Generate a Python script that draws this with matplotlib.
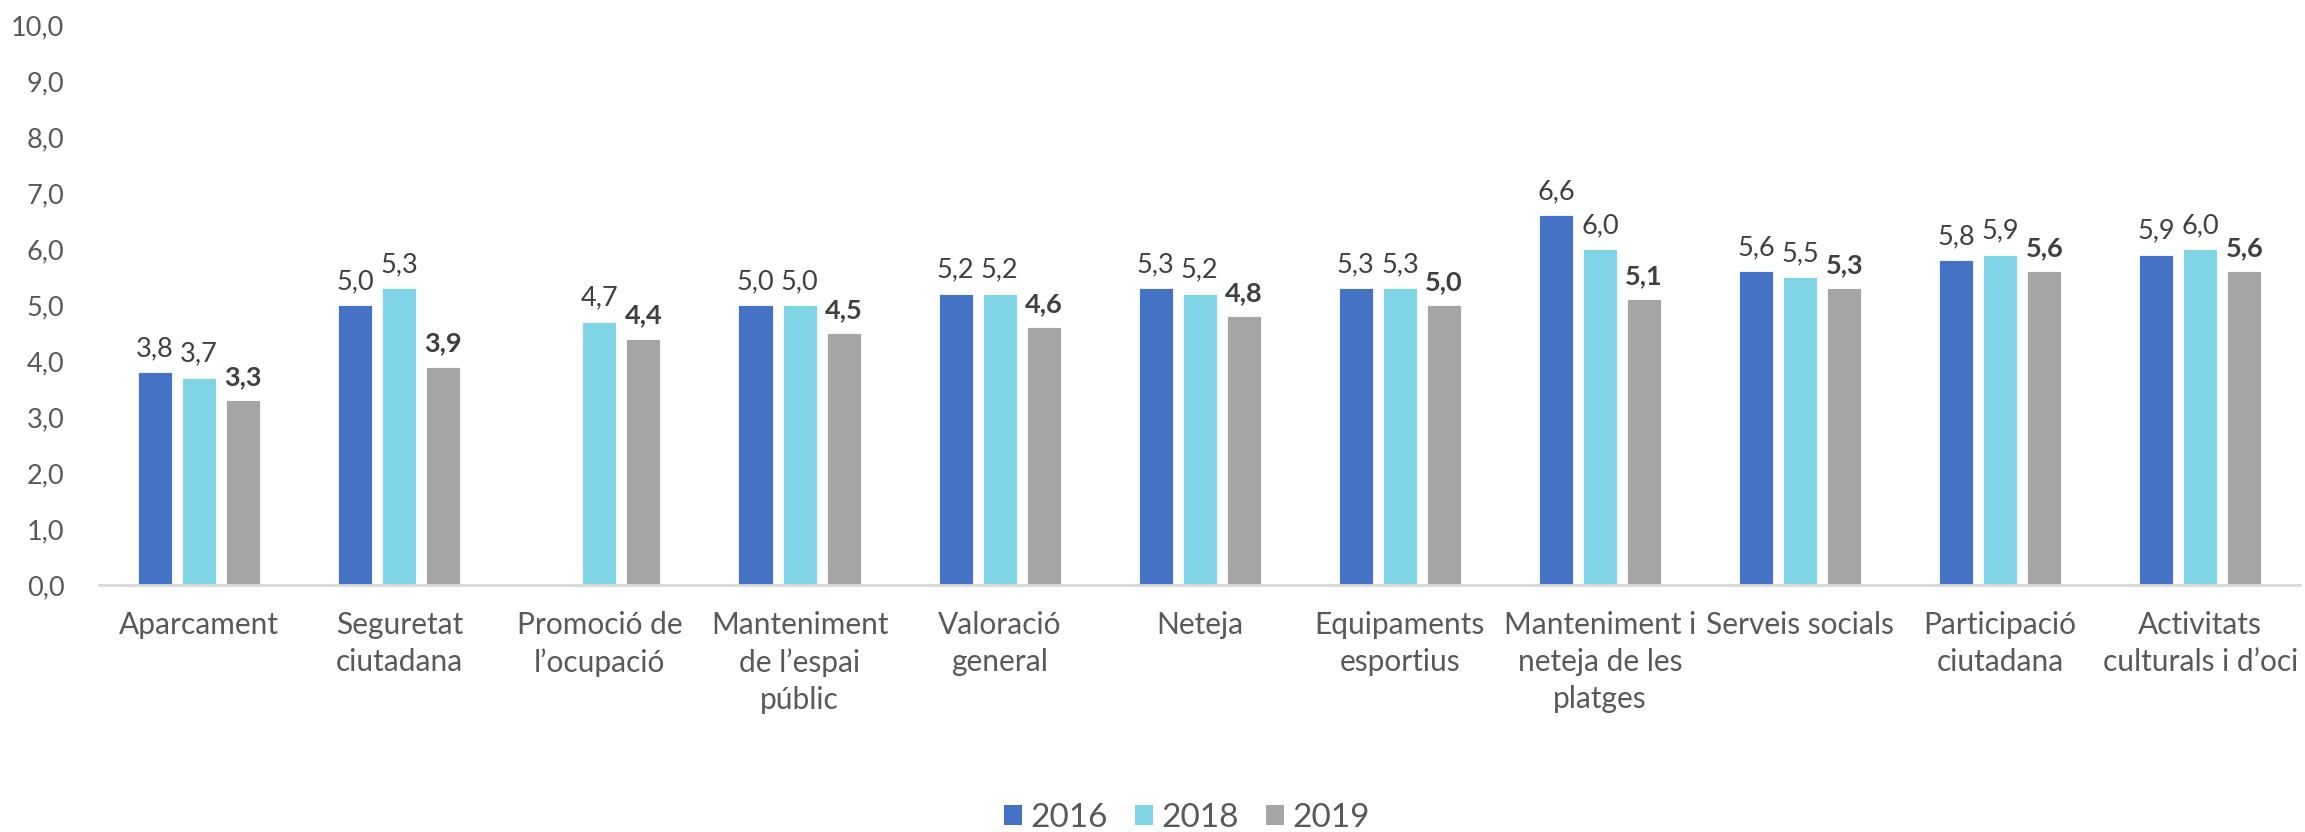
import numpy as np
import matplotlib
matplotlib.use("Agg")
import matplotlib.pyplot as plt
from matplotlib.patches import Patch

plt.rcParams['font.family'] = ['Lato', 'DejaVu Sans']

categories = [
    "Aparcament",
    "Seguretat\nciutadana",
    "Promoció de\nl’ocupació",
    "Manteniment\nde l’espai\npúblic",
    "Valoració\ngeneral",
    "Neteja",
    "Equipaments\nesportius",
    "Manteniment i\nneteja de les\nplatges",
    "Serveis socials",
    "Participació\nciutadana",
    "Activitats\nculturals i d’oci",
]
series_names = ["2016", "2018", "2019"]
values_2016 = [3.8, 5.0, np.nan, 5.0, 5.2, 5.3, 5.3, 6.6, 5.6, 5.8, 5.9]
values_2018 = [3.7, 5.3, 4.7, 5.0, 5.2, 5.2, 5.3, 6.0, 5.5, 5.9, 6.0]
values_2019 = [3.3, 3.9, 4.4, 4.5, 4.6, 4.8, 5.0, 5.1, 5.3, 5.6, 5.6]
yticks = np.arange(0, 10.5, 1.0)

colors = ["#4472C4", "#7FD5E6", "#A5A5A5"]
label_color = "#404040"
tick_color = "#595959"

fig = plt.figure(figsize=(23.05, 8.32), dpi=100)
ax = fig.add_axes([0.043, 0.297, 0.955, 0.673])

x = np.arange(len(categories))
width = 0.17
step = 0.22
all_series = [values_2016, values_2018, values_2019]

for i, (vals, col) in enumerate(zip(all_series, colors)):
    pos = x + (i - 1) * step
    v = np.array(vals, dtype=float)
    ax.bar(pos, v, width=width, color=col, edgecolor="white", linewidth=0.6, zorder=2)
    for px, val in zip(pos, v):
        if np.isnan(val):
            continue
        txt = f"{val:.1f}".replace(".", ",")
        ax.annotate(txt, (px, val), xytext=(0, 8), textcoords="offset points",
                    ha="center", va="bottom", fontsize=19.5,
                    fontweight="bold" if i == 2 else "normal",
                    color=label_color)

ax.set_xlim(-0.5, len(categories) - 0.5)
ax.set_ylim(0, 10)
ax.set_yticks(yticks)
ax.set_yticklabels([f"{t:.1f}".replace(".", ",") for t in yticks])
ax.set_xticks(x)
ax.set_xticklabels(categories, linespacing=1.38)
ax.tick_params(axis="both", length=0, colors=tick_color)
ax.tick_params(axis="y", pad=25, labelsize=19.5)
ax.tick_params(axis="x", pad=19, labelsize=21.5)

for side in ["top", "right", "left"]:
    ax.spines[side].set_visible(False)
ax.spines["bottom"].set_color("#D9D9D9")
ax.spines["bottom"].set_linewidth(2)

handles = [Patch(facecolor=c, label=n) for c, n in zip(colors, series_names)]
fig.legend(handles=handles, loc="center", bbox_to_anchor=(0.515, 0.017),
           ncol=3, frameon=False, fontsize=24, handlelength=0.55, handleheight=0.55,
           columnspacing=0.8, handletextpad=0.25, labelcolor=tick_color)

fig.savefig("out.png", dpi=100, facecolor="white")
